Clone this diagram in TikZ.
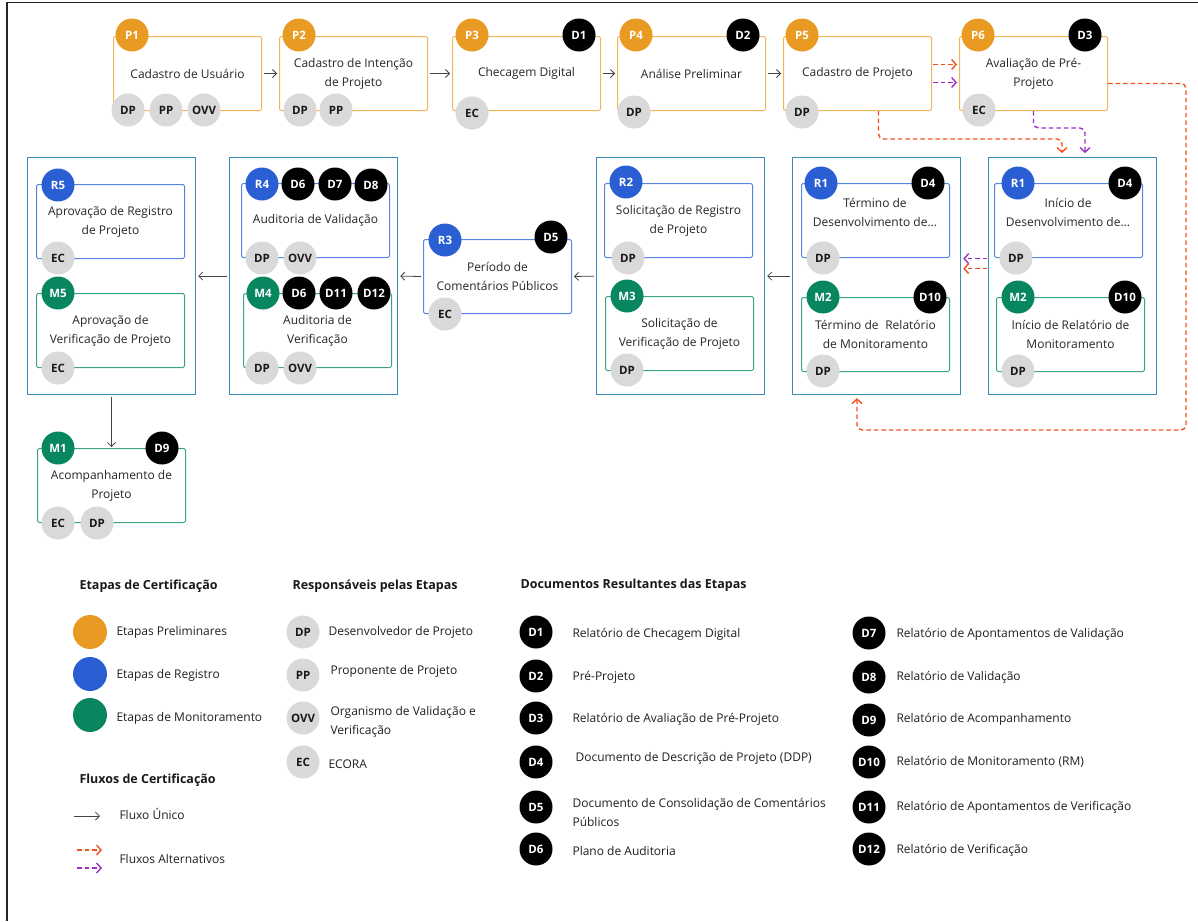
\documentclass[tikz,border=0pt]{standalone}
\usepackage{fontspec}
\setmainfont{Open Sans}
\usetikzlibrary{arrows.meta,calc}
\definecolor{orgF}{HTML}{E99A22}
\definecolor{orgL}{HTML}{F3B457}
\definecolor{bluF}{HTML}{2A5FD3}
\definecolor{bluL}{HTML}{5585E0}
\definecolor{grnF}{HTML}{07865F}
\definecolor{grnL}{HTML}{3AA483}
\definecolor{contL}{HTML}{3A8DB8}
\definecolor{grayF}{HTML}{D9D9D9}
\definecolor{txt}{HTML}{262626}
\definecolor{altRed}{HTML}{F4511E}
\definecolor{altPur}{HTML}{9B2FC9}
\definecolor{flowC}{HTML}{444444}
\begin{document}
\begin{tikzpicture}[x=1pt,y=-1pt,
  every node/.style={font=\fontsize{12}{19}\selectfont, text=txt},
  box/.style={draw, line width=1pt, rounded corners=1.5pt, inner sep=0pt, align=center, minimum width=148pt, minimum height=74pt, anchor=north west},
  pbox/.style={box, draw=orgL},
  rbox/.style={box, draw=bluL},
  mbox/.style={box, draw=grnL},
  cont/.style={draw=contL, line width=1.2pt, inner sep=0pt, minimum width=168pt, minimum height=237pt, anchor=north west},
  circ/.style={circle, inner sep=0pt, minimum size=33pt, font=\fontsize{11.5}{12}\bfseries\selectfont, text=white},
  pc/.style={circ, fill=orgF}, rc/.style={circ, fill=bluF}, mc/.style={circ, fill=grnF}, dc/.style={circ, fill=black},
  gc/.style={circ, fill=grayF, text=black!90},
  flow/.style={draw=flowC, line width=0.8pt, -{Straight Barb[length=4pt,width=8pt]}, shorten <=2pt, shorten >=2pt},
  altr/.style={draw=altRed, line width=1.4pt, dash pattern=on 4.5pt off 3pt, -{Straight Barb[length=4.5pt,width=10pt]}, rounded corners=5pt},
  altp/.style={altr, draw=altPur},
  ltxt/.style={anchor=west, align=left, text=black!88},
  ltitle/.style={anchor=west, text=black!90, font=\fontsize{12.5}{15}\bfseries\selectfont},
]
\useasboundingbox (0,0) rectangle (1198,921);
% frame
\draw[line width=1.2pt, black!85] (7,921) -- (7,2.5) -- (1198,2.5);

% ---------- top row ----------
\node[pbox] (p1) at (113,36) {Cadastro de Usuário};
\node[pbox] (p2) at (279,36) {Cadastro de Intenção\\de Projeto};
\node[pbox] (p3) at (452,36) {Checagem Digital};
\node[pbox] (p4) at (617,36) {Análise Preliminar};
\node[pbox] (p5) at (783,36) {Cadastro de Projeto};
\node[pbox] (p6) at (959,36) {Avaliação de Pré-\\Projeto};

\node[pc] (p1c) at (132,35) {P1};
\node[pc] (p2c) at (299,35) {P2};
\node[pc] (p3c) at (472,35) {P3};
\node[dc] (d1) at (579,35) {D1};
\node[pc] (p4c) at (636,35) {P4};
\node[dc] (d2) at (743,35) {D2};
\node[pc] (p5c) at (802,35) {P5};
\node[pc] (p6c) at (978,35) {P6};
\node[dc] (d3) at (1085,35) {D3};

\node[gc] (p1dp) at (128,110) {DP};
\node[gc] (p1pp) at (166,110) {PP};
\node[gc] (p1ovv) at (204,110) {OVV};
\node[gc] (p2dp) at (300,110) {DP};
\node[gc] (p2pp) at (336,110) {PP};
\node[gc] (p3ec) at (472,113) {EC};
\node[gc] (p4dp) at (634,112) {DP};
\node[gc] (p5dp) at (802,112) {DP};
\node[gc] (p6ec) at (979,110) {EC};

% ---------- middle row containers ----------
\node[cont] (cA) at (27,157) {};
\node[cont] (cB) at (229,157) {};
\node[cont] (cC) at (596,157) {};
\node[cont] (cD) at (792,157) {};
\node[cont] (cE) at (988,157) {};

\node[rbox] (r5b) at (36,184) {Aprovação de Registro\\de Projeto};
\node[mbox] (m5b) at (36,293) {Aprovação de\\Verificação de Projeto};
\node[rbox] (r4b) at (241,183) {Auditoria de Validação};
\node[mbox] (m4b) at (243,293) {Auditoria de\\Verificação};
\node[rbox] (r3b) at (423,239) {Período de\\Comentários Públicos};
\node[rbox] (r2b) at (604,183) {Solicitação de Registro\\de Projeto};
\node[mbox] (m3b) at (605,296) {Solicitação de\\Verificação de Projeto};
\node[rbox] (r1b) at (801,183) {};
\node[align=center] (r1t) at (875,212) {Término de\\Desenvolvimento de...};
\node[mbox] (m2b) at (801,297) {Término de\hspace{0.3em} Relatório\\de Monitoramento};
\node[rbox] (r1eb) at (994,183) {};
\node[align=center] (r1et) at (1068,212) {Início de\\Desenvolvimento de...};
\node[mbox] (m2eb) at (996,297) {Início de Relatório de\\Monitoramento};
\node[mbox] (m1b) at (37,448) {Acompanhamento de\\Projeto};

% circles middle row
\node[rc] (r5c) at (58,185) {R5};
\node[gc] (r5ec) at (58,258) {EC};
\node[mc] (m5c) at (58,293) {M5};
\node[gc] (m5ec) at (58,368) {EC};

\node[rc] (r4c) at (262,184) {R4};
\node[dc] (d6a) at (298,184) {D6};
\node[dc] (d7) at (335,184) {D7};
\node[dc] (d8) at (371,185) {D8};
\node[gc] (r4dp) at (262,258) {DP};
\node[gc] (r4ovv) at (300,258) {OVV};
\node[mc] (m4c) at (263,293) {M4};
\node[dc] (d6b) at (299,293) {D6};
\node[dc] (d11) at (336,293) {D11};
\node[dc] (d12) at (374,293) {D12};
\node[gc] (m4dp) at (262,368) {DP};
\node[gc] (m4ovv) at (300,368) {OVV};

\node[rc] (r3c) at (445,240) {R3};
\node[dc] (d5) at (551,237) {D5};
\node[gc] (r3ec) at (445,314) {EC};

\node[rc] (r2c) at (626,182) {R2};
\node[gc] (r2dp) at (628,258) {DP};
\node[mc] (m3c) at (627,296) {M3};
\node[gc] (m3dp) at (627,370) {DP};

\node[rc] (r1c) at (821,183) {R1};
\node[dc] (d4a) at (928,183) {D4};
\node[gc] (r1dp) at (823,258) {DP};
\node[mc] (m2c) at (823,297) {M2};
\node[dc] (d10a) at (930,297) {D10};
\node[gc] (m2dp) at (823,371) {DP};

\node[rc] (r1ec) at (1018,183) {R1};
\node[dc] (d4b) at (1125,183) {D4};
\node[gc] (r1edp) at (1016,258) {DP};
\node[mc] (m2ec) at (1018,297) {M2};
\node[dc] (d10b) at (1125,297) {D10};
\node[gc] (m2edp) at (1018,371) {DP};

\node[mc] (m1c) at (58,448) {M1};
\node[dc] (d9) at (162,448) {D9};
\node[gc] (m1ec) at (58,523) {EC};
\node[gc] (m1dp) at (97,523) {DP};

% ---------- connectors ----------
\draw[flow] (p1) -- (p2);
\draw[flow] (p2) -- (p3);
\draw[flow] (p3) -- (p4);
\draw[flow] (p4) -- (p5);
\draw[altr, shorten <=1pt, shorten >=2pt] ([yshift=9pt]p5.east) -- ([yshift=9pt]p6.west);
\draw[altp, shorten <=1pt, shorten >=2pt] ([yshift=-9pt]p5.east) -- ([yshift=-9pt]p6.west);
\draw[altr] ([xshift=21pt]p5.south) -- ++(0,28) -| ([xshift=74pt,yshift=4pt]cE.north west);
\draw[altp] (p6.south) -- ++(0,17) -| ([xshift=97pt,yshift=4pt]cE.north west);
\draw[altr] ([yshift=-10pt]p6.east) -| (1186,430) -| ([xshift=65pt,yshift=-3pt]cD.south west);

\draw[altp, shorten <=1pt, shorten >=2pt] ([yshift=17.5pt]cE.west) -- ([yshift=17.5pt]cD.east);
\draw[altr, shorten <=1pt, shorten >=2pt] ([yshift=7.5pt]cE.west) -- ([yshift=7.5pt]cD.east);
\draw[flow] (cD.west) -- (cC.east);
\draw[flow] (cC.west) -- (r3b.east);
\draw[flow] (r3b.west) -- (cB.east);
\draw[flow] (cB.west) -- (cA.east);
\draw[flow, shorten >=1pt] (cA.south) -- (m1b.north);

% ---------- legend ----------
\node[ltitle] (t1) at (76,586) {Etapas de Certificação};
\node[circ, fill=orgF, minimum size=34pt] (lo) at (90,632) {};
\node[ltxt] (lot) at (113,632) {Etapas Preliminares};
\node[circ, fill=bluF, minimum size=34pt] (lb) at (90,674) {};
\node[ltxt] (lbt) at (113,675) {Etapas de Registro};
\node[circ, fill=grnF, minimum size=34pt] (lg) at (90,715) {};
\node[ltxt] (lgt) at (113,718) {Etapas de Monitoramento};

\node[ltitle] (t2) at (76,780) {Fluxos de Certificação};
\coordinate (fa1) at (74,816);
\coordinate (fa2) at (100,816);
\draw[flow, shorten <=0pt, shorten >=0pt] (fa1) -- (fa2);
\node[ltxt] (fat) at (116,814) {Fluxo Único};
\coordinate (fr1) at (77,850);
\coordinate (fr2) at (102,850);
\coordinate (fp1) at (77,868);
\coordinate (fp2) at (102,868);
\draw[altr] (fr1) -- (fr2);
\draw[altp] (fp1) -- (fp2);
\node[ltxt] (fpt) at (116,859) {Fluxos Alternativos};

\node[ltitle] (t3) at (289,586) {Responsáveis pelas Etapas};
\node[gc] (ldp) at (303,632) {DP};
\node[ltxt] (ldpt) at (325,632) {Desenvolvedor de Projeto};
\node[gc] (lpp) at (303,675) {PP};
\node[ltxt] (lppt) at (327,671) {Proponente de Projeto};
\node[gc] (lovv) at (303,718) {OVV};
\node[ltxt] (lovvt) at (327,722) {Organismo de Validação e\\Verificação};
\node[gc] (lec) at (303,762) {EC};
\node[ltxt] (lect) at (325,764) {ECORA};

\node[ltitle] (t4) at (517,585) {Documentos Resultantes das Etapas};
\node[dc] (ld1) at (536,632) {D1};
\node[ltxt] (ld1t) at (569,634) {Relatório de Checagem Digital};
\node[dc] (ld2) at (536,676) {D2};
\node[ltxt] (ld2t) at (569,677) {Pré-Projeto};
\node[dc] (ld3) at (536,718) {D3};
\node[ltxt] (ld3t) at (569,719) {Relatório de Avaliação de Pré-Projeto};
\node[dc] (ld4) at (536,762) {D4};
\node[ltxt] (ld4t) at (572,758) {Documento de Descrição de Projeto (DDP)};
\node[dc] (ld5) at (536,807) {D5};
\node[ltxt] (ld5t) at (569,812) {Documento de Consolidação de Comentários\\Públicos};
\node[dc] (ld6) at (536,849) {D6};
\node[ltxt] (ld6t) at (569,851) {Plano de Auditoria};

\node[dc] (ld7) at (869,633) {D7};
\node[ltxt] (ld7t) at (893,634) {Relatório de Apontamentos de Validação};
\node[dc] (ld8) at (869,677) {D8};
\node[ltxt] (ld8t) at (893,677) {Relatório de Validação};
\node[dc] (ld9) at (869,720) {D9};
\node[ltxt] (ld9t) at (893,719) {Relatório de Acompanhamento};
\node[dc] (ld10) at (869,762) {D10};
\node[ltxt] (ld10t) at (893,762) {Relatório de Monitoramento (RM)};
\node[dc] (ld11) at (869,807) {D11};
\node[ltxt] (ld11t) at (893,807) {Relatório de Apontamentos de Verificação};
\node[dc] (ld12) at (869,849) {D12};
\node[ltxt] (ld12t) at (893,850) {Relatório de Verificação};
\end{tikzpicture}
\end{document}
